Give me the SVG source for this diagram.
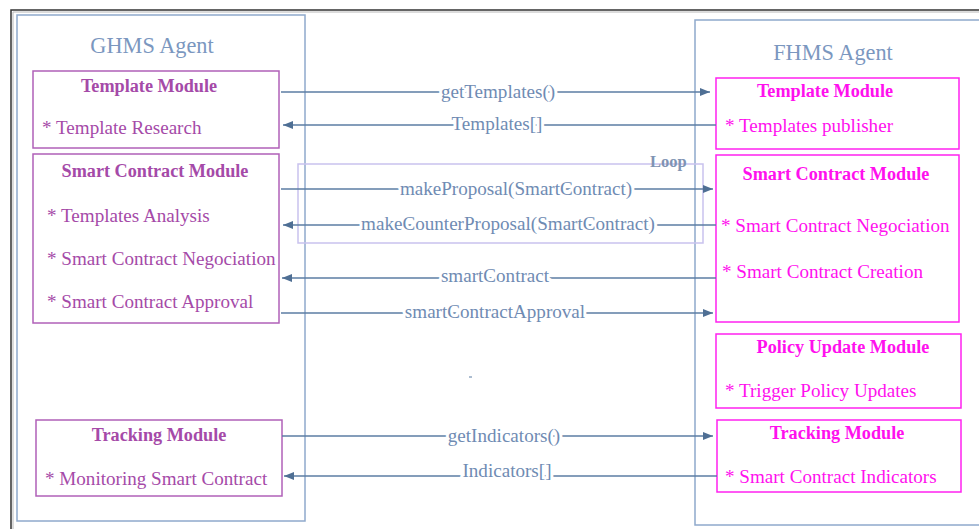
<svg xmlns="http://www.w3.org/2000/svg" width="979" height="529" viewBox="0 0 979 529">
  <defs>
    <marker id="arrow" viewBox="0 0 10 8" refX="10" refY="4" markerWidth="10" markerHeight="8" markerUnits="userSpaceOnUse" orient="auto">
      <path d="M0,0 L10,4 L0,8 Z" fill="#4f6f94"/>
    </marker>
    <style>
      .frame { fill: none; stroke: #333; stroke-width: 1.5; }
      .agent { fill: none; stroke: #8fa9cc; stroke-width: 1.5; }
      .agent-title { font-family: "Liberation Serif", "DejaVu Serif", serif; font-size: 22.3px; fill: #7b97bf; text-anchor: middle; }
      .gmod { fill: #fff; stroke: #b060b8; stroke-width: 1.5; }
      .fmod { fill: #fff; stroke: #ff22f0; stroke-width: 1.5; }
      .gtitle { font-family: "Liberation Serif", "DejaVu Serif", serif; font-size: 18.2px; font-weight: bold; fill: #a54aa8; text-anchor: middle; }
      .gitem { font-family: "Liberation Serif", "DejaVu Serif", serif; font-size: 19.1px; fill: #a54aa8; }
      .ftitle { font-family: "Liberation Serif", "DejaVu Serif", serif; font-size: 18.2px; font-weight: bold; fill: #ff10ee; text-anchor: middle; }
      .fitem { font-family: "Liberation Serif", "DejaVu Serif", serif; font-size: 19.1px; fill: #ff10ee; }
      .msg { stroke: #5b7ca3; stroke-width: 1.5; fill: none; marker-end: url(#arrow); }
      .label { font-family: "Liberation Serif", "DejaVu Serif", serif; font-size: 19.1px; fill: #6f8bb3; text-anchor: middle; stroke: #fff; stroke-width: 6; paint-order: stroke; stroke-linejoin: round; }
      .loop { fill: none; stroke: #c9c2ee; stroke-width: 1.5; }
      .loop-label { font-family: "Liberation Serif", "DejaVu Serif", serif; font-size: 16.5px; font-weight: bold; fill: #7f93b3; }
    </style>
  </defs>

  <rect width="979" height="529" fill="#fff"/>

  <!-- outer frame -->
  <path class="frame" d="M11,529 V10 H979"/>
  <path d="M13,529 V12 H979" fill="none" stroke="#b8b8b8" stroke-width="1"/>

  <!-- agents -->
  <g id="ghms-agent">
    <rect class="agent" x="17" y="15" width="288" height="506"/>
    <text class="agent-title" x="152" y="53">GHMS Agent</text>
  </g>
  <g id="fhms-agent">
    <rect class="agent" x="695" y="20" width="290" height="505"/>
    <text class="agent-title" x="833" y="60">FHMS Agent</text>
  </g>

  <!-- loop fragment -->
  <g id="loop">
    <rect class="loop" x="298" y="164" width="405" height="79"/>
    <text class="loop-label" x="650" y="167">Loop</text>
  </g>

  <!-- GHMS modules -->
  <g id="ghms-template">
    <rect class="gmod" x="33" y="71" width="246" height="77"/>
    <text class="gtitle" x="149" y="92">Template Module</text>
    <text class="gitem" x="42" y="134">* Template Research</text>
  </g>
  <g id="ghms-smart-contract">
    <rect class="gmod" x="33" y="154" width="246" height="169"/>
    <text class="gtitle" x="155" y="177">Smart Contract Module</text>
    <text class="gitem" x="47" y="222">* Templates Analysis</text>
    <text class="gitem" x="47" y="265">* Smart Contract Negociation</text>
    <text class="gitem" x="47" y="308">* Smart Contract Approval</text>
  </g>
  <g id="ghms-tracking">
    <rect class="gmod" x="36" y="420" width="246" height="76"/>
    <text class="gtitle" x="159" y="441">Tracking Module</text>
    <text class="gitem" x="45" y="485">* Monitoring Smart Contract</text>
  </g>

  <!-- FHMS modules -->
  <g id="fhms-template">
    <rect class="fmod" x="716" y="78" width="243" height="71"/>
    <text class="ftitle" x="825" y="97">Template Module</text>
    <text class="fitem" x="725" y="132">* Templates publisher</text>
  </g>
  <g id="fhms-smart-contract">
    <rect class="fmod" x="716" y="155" width="243" height="167"/>
    <text class="ftitle" x="836" y="180">Smart Contract Module</text>
    <text class="fitem" x="721" y="232">* Smart Contract Negociation</text>
    <text class="fitem" x="722" y="278">* Smart Contract Creation</text>
  </g>
  <g id="fhms-policy-update">
    <rect class="fmod" x="716" y="334" width="245" height="74"/>
    <text class="ftitle" x="843" y="353">Policy Update Module</text>
    <text class="fitem" x="725" y="397">* Trigger Policy Updates</text>
  </g>
  <g id="fhms-tracking">
    <rect class="fmod" x="717" y="420" width="244" height="72"/>
    <text class="ftitle" x="837" y="439">Tracking Module</text>
    <text class="fitem" x="725" y="483">* Smart Contract Indicators</text>
  </g>

  <!-- messages -->
  <g id="connectors">
    <line class="msg" x1="281" y1="92" x2="710" y2="92"/>
    <text class="label" x="498" y="98">getTemplates()</text>

    <line class="msg" x1="716" y1="125" x2="283" y2="125"/>
    <text class="label" x="497" y="130">Templates[]</text>

    <line class="msg" x1="281" y1="189" x2="713" y2="189"/>
    <text class="label" x="516" y="195">makeProposal(SmartContract)</text>

    <line class="msg" x1="716" y1="225" x2="283" y2="225"/>
    <text class="label" x="508" y="230">makeCounterProposal(SmartContract)</text>

    <line class="msg" x1="716" y1="278" x2="282" y2="278"/>
    <text class="label" x="495" y="282">smartContract</text>

    <line class="msg" x1="281" y1="313" x2="713" y2="313"/>
    <text class="label" x="495" y="318">smartContractApproval</text>

    <line class="msg" x1="282" y1="436" x2="713" y2="436"/>
    <text class="label" x="504" y="442">getIndicators()</text>

    <line class="msg" x1="717" y1="476" x2="284" y2="476"/>
    <text class="label" x="507" y="477">Indicators[]</text>
  </g>

  <!-- stray mark -->
  <line x1="469" y1="377" x2="472" y2="377" stroke="#5b7ca3" stroke-width="1"/>
</svg>
